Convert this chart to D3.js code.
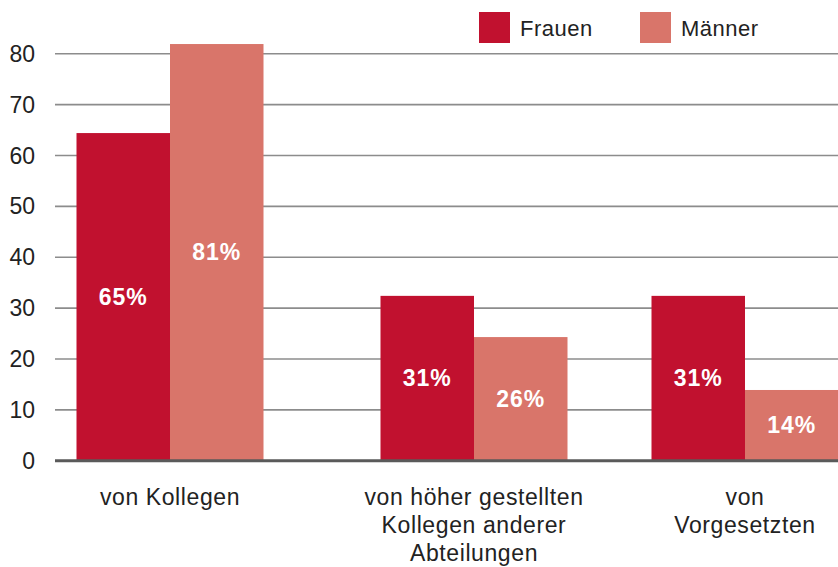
<!DOCTYPE html>
<html>
<head>
<meta charset="utf-8">
<script src="https://cdn.jsdelivr.net/npm/d3@7"></script>
<style>
  body { margin: 0; background: #fff; }
  text { font-family: "Liberation Sans", Arial, Helvetica, sans-serif; }
</style>
</head>
<body>
<div class="chart"></div>
<script>
// data
const categories = ["von Kollegen", "von höher gestellten Kollegen anderer Abteilungen", "von Vorgesetzten"];
const categoryLines = [["von Kollegen"], ["von höher gestellten", "Kollegen anderer", "Abteilungen"], ["von", "Vorgesetzten"]];
const seriesNames = ["Frauen", "Männer"];
const frauenValues = [64.4, 32.4, 32.4];
const maennerValues = [81.9, 24.3, 13.9];
const frauenLabels = ["65%", "31%", "31%"];
const maennerLabels = ["81%", "26%", "14%"];
const yTicks = [0, 10, 20, 30, 40, 50, 60, 70, 80];

const colors = { "Frauen": "#c1112f", "Männer": "#d9756a" };
const width = 838, height = 567;
const groupCenters = [170, 474, 745];

let rows = [];
categories.forEach(function(c, i) {
  rows.push({ cat: c, series: "Frauen", value: frauenValues[i], label: frauenLabels[i] });
  rows.push({ cat: c, series: "Männer", value: maennerValues[i], label: maennerLabels[i] });
});

let svg = d3.select(".chart")
  .append("svg")
    .attr("width", width)
    .attr("height", height);

let y = d3.scaleLinear()
  .domain([0, 80])
  .range([460.7, 53.7]);

let x0 = d3.scaleOrdinal()
  .domain(categories)
  .range(groupCenters);

let x1 = d3.scaleBand()
  .domain(seriesNames)
  .range([-93.5, 93.5])
  .padding(0);

// gridlines
svg.append("g")
  .selectAll("line")
  .data(yTicks.filter(d => d > 0))
  .enter().append("line")
    .attr("x1", 55)
    .attr("x2", width)
    .attr("y1", d => y(d))
    .attr("y2", d => y(d))
    .attr("stroke", "#8c8c8c")
    .attr("stroke-width", 1.6);

// y tick labels
svg.append("g")
  .selectAll("text")
  .data(yTicks)
  .enter().append("text")
    .attr("x", 35)
    .attr("y", d => y(d))
    .attr("dy", "0.35em")
    .attr("text-anchor", "end")
    .attr("font-size", 23)
    .attr("fill", "#222")
    .text(d => d);

// bars
svg.append("g")
  .selectAll("rect")
  .data(rows)
  .enter().append("rect")
    .attr("x", d => x0(d.cat) + x1(d.series))
    .attr("y", d => y(d.value))
    .attr("width", x1.bandwidth())
    .attr("height", d => y(0) - y(d.value))
    .attr("fill", d => colors[d.series]);

// value labels
svg.append("g")
  .selectAll("text")
  .data(rows)
  .enter().append("text")
    .attr("x", d => x0(d.cat) + x1(d.series) + x1.bandwidth() / 2)
    .attr("y", d => (y(d.value) + y(0)) / 2)
    .attr("dy", "0.35em")
    .attr("text-anchor", "middle")
    .attr("font-size", 23)
    .attr("font-weight", "bold")
    .attr("letter-spacing", 1)
    .attr("fill", "#fff")
    .text(d => d.label);

// zero axis
svg.append("line")
  .attr("x1", 55)
  .attr("x2", width)
  .attr("y1", y(0))
  .attr("y2", y(0))
  .attr("stroke", "#5a5a5a")
  .attr("stroke-width", 3);

// category labels
let catG = svg.append("g")
  .selectAll("text")
  .data(categories)
  .enter().append("text")
    .attr("x", d => x0(d))
    .attr("y", 505)
    .attr("text-anchor", "middle")
    .attr("font-size", 23)
    .attr("letter-spacing", 0.6)
    .attr("fill", "#222");
catG.each(function(d, i) {
  d3.select(this).selectAll("tspan")
    .data(categoryLines[i])
    .enter().append("tspan")
      .attr("x", x0(d))
      .attr("dy", (l, j) => j === 0 ? 0 : 28)
      .text(l => l);
});

// legend
let legend = svg.append("g")
  .selectAll("g")
  .data(seriesNames)
  .enter().append("g")
    .attr("transform", (d, i) => "translate(" + (479 + i * 161) + ",12)");
legend.append("rect")
  .attr("width", 31)
  .attr("height", 31)
  .attr("fill", d => colors[d]);
legend.append("text")
  .attr("x", 41)
  .attr("y", 16)
  .attr("dy", "0.35em")
  .attr("font-size", 22)
  .attr("letter-spacing", 0.5)
  .attr("fill", "#222")
  .text(d => d);
</script>
</body>
</html>
